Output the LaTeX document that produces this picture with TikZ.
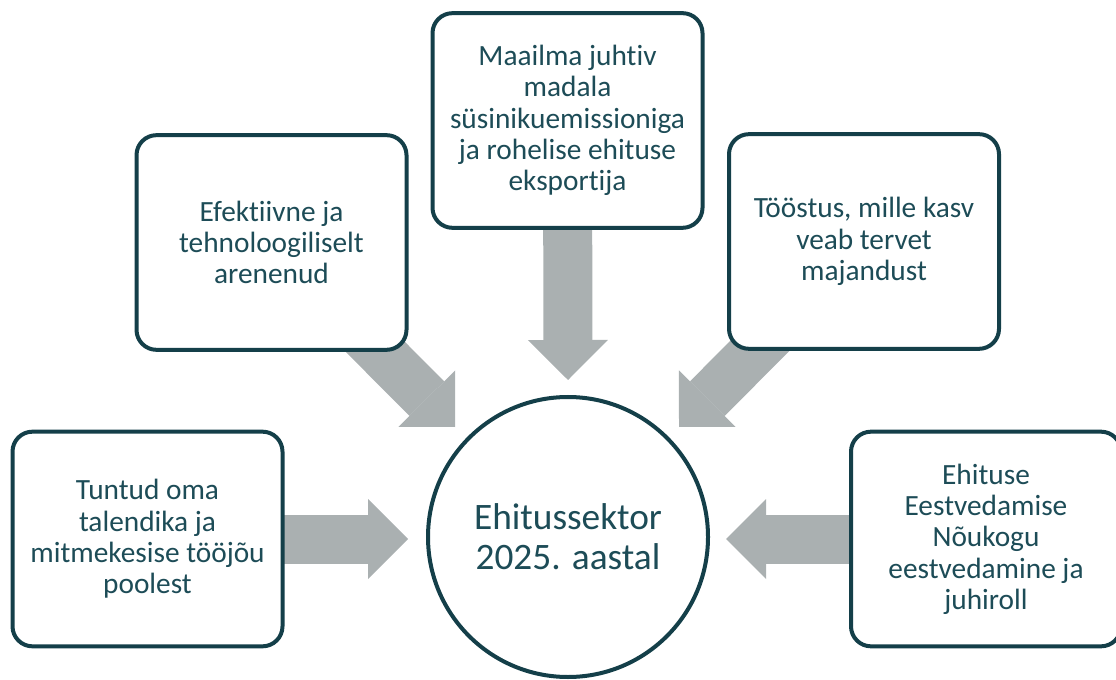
\documentclass[tikz,border=0pt]{standalone}
\usepackage{fontspec}
\setmainfont{Carlito}[Ligatures=NoCommon]
\usetikzlibrary{arrows.meta,backgrounds}
\definecolor{edge}{HTML}{143F49}
\definecolor{ink}{HTML}{1D4C57}
\definecolor{arrowgray}{HTML}{AAB0B1}
\begin{document}
\begin{tikzpicture}[x=0.75pt,y=-0.75pt,
  goal/.style={draw=edge,line width=3pt,rounded corners=15pt,fill=white,
    minimum width=202.5pt,minimum height=161pt,align=center,text=ink,
    font=\fontsize{22}{23.5}\selectfont},
  hub/.style={draw=edge,line width=3pt,circle,fill=white,minimum size=210pt,
    align=center,text=ink,font=\fontsize{28}{30}\selectfont},
  flow/.style={draw=arrowgray,line width=36.75pt,
    -{Triangle[length=30pt,width=60pt,line width=0pt,fill=arrowgray]}}]

\useasboundingbox (0,0) rectangle (1116,680);

\node[hub] (sector) at (568,537) {Ehitussektor\\2025. aastal};

\node[goal] (talent) at (147.5,539) {Tuntud oma\\talendika ja\\mitmekesise tööjõu\\poolest};
\node[goal] (tech) at (271.5,242.5) {Efektiivne ja\\tehnoloogiliselt\\arenenud};
\node[goal] (export) at (567.5,120.5) {Maailma juhtiv\\madala\\süsinikuemissioniga\\ja rohelise ehituse\\eksportija};
\node[goal] (growth) at (864,241.5) {Tööstus, mille kasv\\veab tervet\\majandust};
\node[goal] (council) at (986,539) {Ehituse\\Eestvedamise\\Nõukogu\\eestvedamine ja\\juhiroll};

\coordinate (tip1) at (408,539);
\coordinate (tip2) at (455,427);
\coordinate (tip3) at (568,380);
\coordinate (tip4) at (679,427);
\coordinate (tip5) at (726,539);

\begin{scope}[on background layer]
\draw[flow] (talent.center) -- (tip1);
\draw[flow] (tech.center) -- (tip2);
\draw[flow] (export.center) -- (tip3);
\draw[flow] (growth.center) -- (tip4);
\draw[flow] (council.center) -- (tip5);
\end{scope}

\end{tikzpicture}
\end{document}
